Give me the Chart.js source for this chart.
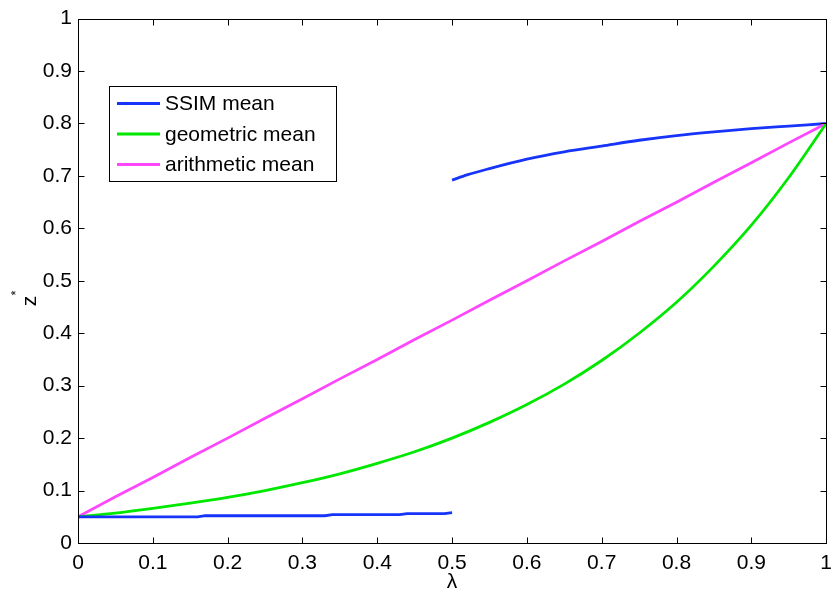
<!DOCTYPE html>
<html>
<head>
<meta charset="utf-8">
<script src="https://cdn.jsdelivr.net/npm/chart.js@4.4.1/dist/chart.umd.min.js"></script>
<style>
  html, body { margin: 0; padding: 0; background: #fff; }
  #wrap { width: 840px; height: 594px; }
</style>
</head>
<body>
<div id="wrap"><canvas id="c" width="840" height="594"></canvas></div>
<script>
// lambda grid for the two means
const lambda = [0, 0.05, 0.1, 0.15, 0.2, 0.25, 0.3, 0.35, 0.4, 0.45, 0.5,
                0.55, 0.6, 0.65, 0.7, 0.75, 0.8, 0.85, 0.9, 0.95, 1];
const geometricMean = [0.05, 0.057, 0.066, 0.076, 0.087, 0.1, 0.115, 0.132, 0.152, 0.174, 0.2,
                       0.23, 0.264, 0.303, 0.348, 0.4, 0.459, 0.528, 0.606, 0.697, 0.8];
const arithmeticMean = [0.05, 0.088, 0.125, 0.163, 0.2, 0.238, 0.275, 0.313, 0.35, 0.388, 0.425,
                        0.463, 0.5, 0.538, 0.575, 0.613, 0.65, 0.688, 0.725, 0.763, 0.8];
// SSIM mean has a jump at lambda = 0.5: lower and upper branches
const ssimLowX = [0, 0.16, 0.17, 0.33, 0.34, 0.43, 0.44, 0.49, 0.5];
const ssimLowY = [0.05, 0.05, 0.052, 0.052, 0.054, 0.054, 0.056, 0.056, 0.058];
const ssimHighX = [0.5, 0.52, 0.55, 0.6, 0.65, 0.7, 0.75, 0.8, 0.85, 0.9, 0.95, 1];
const ssimHighY = [0.692, 0.702, 0.714, 0.732, 0.746, 0.757, 0.768, 0.777, 0.784, 0.79, 0.795, 0.8];
const seriesNames = ['SSIM mean', 'geometric mean', 'arithmetic mean'];
const xTicks = [0, 0.1, 0.2, 0.3, 0.4, 0.5, 0.6, 0.7, 0.8, 0.9, 1];
const yTicks = [0, 0.1, 0.2, 0.3, 0.4, 0.5, 0.6, 0.7, 0.8, 0.9, 1];

const BLUE = 'rgb(22,52,250)';
const GREEN = 'rgb(0,232,0)';
const MAGENTA = 'rgb(255,70,255)';
const FONT = '"Liberation Sans", Arial, Helvetica, sans-serif';

const pts = (xs, ys) => xs.map((x, i) => ({ x: x, y: ys[i] }));

function lineSet(label, data, color, inLegend, smooth) {
  return {
    label: label, data: data, borderColor: color, backgroundColor: color,
    borderWidth: 2.8, pointRadius: 0, showLine: true,
    cubicInterpolationMode: smooth ? 'monotone' : 'default', tension: 0,
    inLegend: inLegend
  };
}

// Box frame, inward ticks on all four sides, axis titles and legend
const matlabFrame = {
  id: 'matlabFrame',
  afterDraw(chart) {
    const ctx = chart.ctx;
    const a = chart.chartArea;
    const sx = chart.scales.x, sy = chart.scales.y;
    const L = Math.round(a.left) + 0.5, R = Math.round(a.right) + 0.5;
    const T = Math.round(a.top) + 0.5, B = Math.round(a.bottom) + 0.5;
    ctx.save();
    ctx.strokeStyle = '#000';
    ctx.lineWidth = 1;
    ctx.strokeRect(L, T, R - L, B - T);
    const tl = 6;
    ctx.beginPath();
    xTicks.forEach(v => {
      const px = Math.round(sx.getPixelForValue(v)) + 0.5;
      ctx.moveTo(px, B); ctx.lineTo(px, B - tl);
      ctx.moveTo(px, T); ctx.lineTo(px, T + tl);
    });
    yTicks.forEach(v => {
      const py = Math.round(sy.getPixelForValue(v)) + 0.5;
      ctx.moveTo(L, py); ctx.lineTo(L + tl, py);
      ctx.moveTo(R, py); ctx.lineTo(R - tl, py);
    });
    ctx.stroke();

    // axis titles
    ctx.fillStyle = '#000';
    ctx.font = '21px ' + FONT;
    ctx.textAlign = 'center';
    ctx.textBaseline = 'alphabetic';
    ctx.fillText('\u03bb', (a.left + a.right) / 2, 588);
    ctx.save();
    ctx.translate(36, 301);
    ctx.rotate(-Math.PI / 2);
    ctx.textAlign = 'center';
    ctx.fillText('z', 0, 0);
    ctx.font = '13px ' + FONT;
    ctx.fillText('*', 8, -16);
    ctx.restore();

    // legend box
    const bx = 109.5, by = 86.5, bw = 227, bh = 95;
    ctx.fillStyle = '#fff';
    ctx.fillRect(bx, by, bw, bh);
    ctx.strokeStyle = '#000';
    ctx.lineWidth = 1;
    ctx.strokeRect(bx, by, bw, bh);
    const items = chart.data.datasets.filter(d => d.inLegend);
    ctx.font = '21px ' + FONT;
    ctx.textAlign = 'left';
    ctx.textBaseline = 'middle';
    items.forEach((d, i) => {
      const yy = 103.5 + i * 30.5;
      ctx.strokeStyle = d.borderColor;
      ctx.lineWidth = 2.8;
      ctx.beginPath();
      ctx.moveTo(117, yy); ctx.lineTo(160, yy);
      ctx.stroke();
      ctx.fillStyle = '#000';
      ctx.fillText(d.label, 165, yy + 1);
    });
    ctx.restore();
  }
};

new Chart(document.getElementById('c'), {
  type: 'scatter',
  data: {
    datasets: [
      lineSet(seriesNames[0], pts(ssimLowX, ssimLowY), BLUE, true, false),
      lineSet(seriesNames[1], pts(lambda, geometricMean), GREEN, true, true),
      lineSet(seriesNames[2], pts(lambda, arithmeticMean), MAGENTA, true, false),
      lineSet(seriesNames[0], pts(ssimHighX, ssimHighY), BLUE, false, true)
    ]
  },
  options: {
    responsive: false,
    animation: false,
    layout: { padding: { left: 0, right: 8, top: 14, bottom: 0 } },
    plugins: { legend: { display: false }, tooltip: { enabled: false } },
    scales: {
      x: {
        type: 'linear', min: 0, max: 1,
        afterFit: s => { s.height = 51; },
        afterBuildTicks: s => { s.ticks = xTicks.map(v => ({ value: v })); },
        grid: { display: false, drawTicks: false },
        border: { display: false },
        ticks: {
          color: '#000', padding: 8, maxRotation: 0,
          font: { size: 21, family: FONT },
          callback: v => String(Math.round(v * 10) / 10)
        }
      },
      y: {
        type: 'linear', min: 0, max: 1,
        afterFit: s => { s.width = 78; },
        afterBuildTicks: s => { s.ticks = yTicks.map(v => ({ value: v })); },
        grid: { display: false, drawTicks: false },
        border: { display: false },
        ticks: {
          color: '#000', padding: 6,
          font: { size: 21, family: FONT },
          callback: v => String(Math.round(v * 10) / 10)
        }
      }
    }
  },
  plugins: [matlabFrame]
});
</script>
</body>
</html>
